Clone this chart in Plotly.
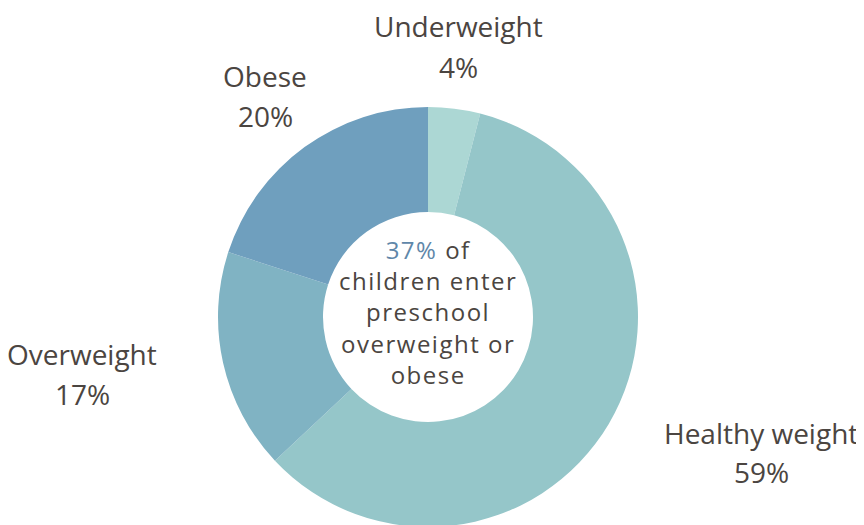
import plotly.graph_objects as go

categories = ["Underweight", "Healthy weight", "Overweight", "Obese"]
values = [4, 59, 17, 20]
colors = ["#acd7d4", "#95c6c9", "#80b3c3", "#6f9fbe"]
center_pct = "37%"
center_lines = ["of", "children enter", "preschool", "overweight or", "obese"]

W, H = 864, 525
OFF = 8  # page body margin offset
TXT = "#4b4541"
FONT = "Open Sans"

fig = go.Figure(go.Pie(
    labels=categories, values=values, sort=False, direction="clockwise",
    rotation=0, hole=0.5, textinfo="none", hoverinfo="label+percent",
    marker=dict(colors=colors, line=dict(width=0)),
    domain=dict(x=[(218 - OFF) / W, (638 - OFF) / W],
                y=[(H - (527 - OFF)) / H, 1 - (107 - OFF) / H]),
    showlegend=False,
))

def px(x, y):
    return (x - OFF) / W, 1 - (y - OFF) / H

# label positions (pixel centers in reference for name line, percent line)
label_pos = {
    "Underweight": (459, 27, 68),
    "Healthy weight": (761, 434, 473),
    "Overweight": (82, 355, 395),
    "Obese": (265, 77, 117),
}
ann = []
for c, v in zip(categories, values):
    x, y1, y2 = label_pos[c]
    for txt, yy in ((c, y1), (f"{v}%", y2)):
        ax, ay = px(x, yy - 1)
        ann.append(dict(x=ax, y=ay, xref="paper", yref="paper",
                        text=txt, showarrow=False, xanchor="center", yanchor="middle",
                        font=dict(family=FONT, size=28, color=TXT)))

ls = "letter-spacing:1.5px"
center_texts = [f"<span style='color:#5f87a9;{ls}'>{center_pct}</span><span style='{ls}'> {center_lines[0]}</span>"]
center_texts += [f"<span style='{ls}'>{t}</span>" for t in center_lines[1:]]
ax, ay = px(428, 312)
ann.append(dict(x=ax, y=ay, xref="paper", yref="paper",
                text="<br>".join(center_texts), showarrow=False,
                xanchor="center", yanchor="middle", align="center",
                font=dict(family=FONT, size=24, color=TXT)))

fig.update_layout(
    width=W, height=H, margin=dict(l=0, r=0, t=0, b=0),
    paper_bgcolor="white", plot_bgcolor="white", annotations=ann,
)
fig.write_html("out.html")
